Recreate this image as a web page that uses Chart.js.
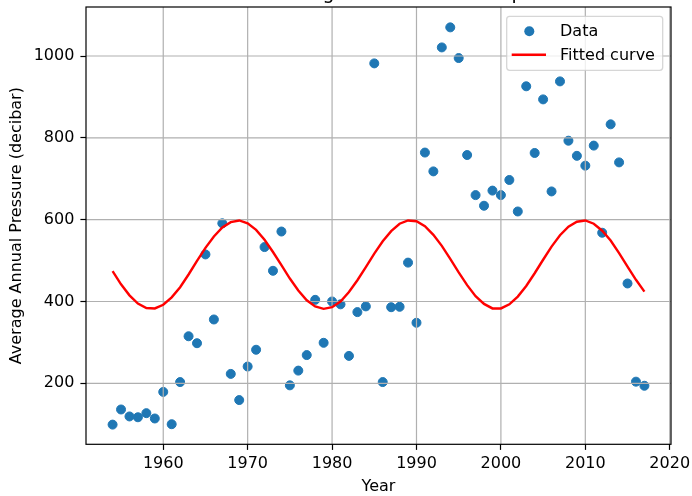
<!DOCTYPE html>
<html>
<head>
<meta charset="utf-8">
<script src="https://cdn.jsdelivr.net/npm/chart.js@4.4.1/dist/chart.umd.min.js"></script>
<style>
  html, body { margin: 0; padding: 0; background: #fff; overflow: hidden; }
  #chart { display: block; }
</style>
</head>
<body>
<canvas id="chart" width="692" height="496"></canvas>
<script>
// Yearly averages, 1954 - 2017
const years = [
  1954, 1955, 1956, 1957, 1958, 1959, 1960, 1961, 1962, 1963,
  1964, 1965, 1966, 1967, 1968, 1969, 1970, 1971, 1972, 1973,
  1974, 1975, 1976, 1977, 1978, 1979, 1980, 1981, 1982, 1983,
  1984, 1985, 1986, 1987, 1988, 1989, 1990, 1991, 1992, 1993,
  1994, 1995, 1996, 1997, 1998, 1999, 2000, 2001, 2002, 2003,
  2004, 2005, 2006, 2007, 2008, 2009, 2010, 2011, 2012, 2013,
  2014, 2015, 2016, 2017
];

// measured average annual pressure (decibar)
const pressure = [
   99, 136, 119, 117, 127, 114, 179, 100, 203, 315,
  298, 515, 356, 591, 223, 159, 241, 282, 533, 475,
  571, 195, 231, 269, 404, 299, 400, 393, 267, 374,
  388, 982, 203, 386, 387, 495, 348, 764, 718, 1021,
 1070, 995, 758, 660, 634, 671, 660, 697, 620, 926,
  763, 894, 669, 938, 793, 756, 732, 781, 568, 833,
  740, 444, 204, 194
];

// sinusoidal fit evaluated at each year
const fitted = [
  474, 442, 415, 395, 384, 383, 392, 410, 435, 466,
  499, 531, 559, 581, 594, 598, 591, 575, 551, 521,
  489, 456, 427, 403, 388, 382, 386, 400, 423, 452,
  484, 517, 547, 572, 590, 598, 596, 584, 563, 536,
  504, 471, 440, 413, 394, 383, 383, 393, 412, 438,
  469, 502, 534, 562, 583, 595, 598, 590, 573, 549,
  518, 485, 453, 424
];

const titleText = 'Sine Fit to Average Annual Pressure per Year';
const xLabel = 'Year';
const yLabel = 'Average Annual Pressure (decibar)';

const FONT = 'DejaVu Sans';
Chart.defaults.font.family = FONT;
Chart.defaults.color = '#000';

// no extra room for half tick labels at the ends of the axes
function trimPadding(s) {
  s.paddingTop = 0;
  s.paddingBottom = 0;
  s.paddingLeft = 0;
  s.paddingRight = 0;
}

// grid lines sit above the scatter markers but under the fitted line
const gridOverPoints = {
  id: 'gridOverPoints',
  afterDatasetDraw(chart, args) {
    if (args.index !== 0) return;
    const {ctx, chartArea: a, scales} = chart;
    ctx.save();
    ctx.strokeStyle = '#b0b0b0';
    ctx.lineWidth = 1.2;
    ctx.beginPath();
    scales.x.ticks.forEach(t => {
      const px = scales.x.getPixelForValue(t.value);
      ctx.moveTo(px, a.top); ctx.lineTo(px, a.bottom);
    });
    scales.y.ticks.forEach(t => {
      const py = scales.y.getPixelForValue(t.value);
      ctx.moveTo(a.left, py); ctx.lineTo(a.right, py);
    });
    ctx.stroke();
    ctx.restore();
  }
};

// axes frame, title and the boxed legend in the upper right corner
const frameAndLegend = {
  id: 'frameAndLegend',
  afterDatasetsDraw(chart) {
    const {ctx, chartArea: a} = chart;
    ctx.save();
    ctx.strokeStyle = '#000';
    ctx.lineWidth = 1.2;
    ctx.strokeRect(a.left, a.top, a.right - a.left, a.bottom - a.top);

    ctx.font = '19px "' + FONT + '"';
    ctx.fillStyle = '#000';
    ctx.textAlign = 'center';
    ctx.textBaseline = 'alphabetic';
    ctx.fillText(titleText, (a.left + a.right) / 2, a.top - 8.5);

    const w = 156, h = 54;
    const right = a.right - 8.3, top = a.top + 9.3, left = right - w;
    ctx.beginPath();
    ctx.roundRect(left, top, w, h, 3);
    ctx.fillStyle = 'rgba(255,255,255,0.8)';
    ctx.fill();
    ctx.strokeStyle = 'rgba(204,204,204,0.8)';
    ctx.lineWidth = 1.3;
    ctx.stroke();

    ctx.font = '16px "' + FONT + '"';
    ctx.textAlign = 'left';
    ctx.textBaseline = 'middle';
    chart.data.datasets.forEach((ds, i) => {
      const cy = top + 15 + i * 23.4;
      if (ds.type === 'line') {
        ctx.strokeStyle = ds.borderColor;
        ctx.lineWidth = ds.borderWidth;
        ctx.beginPath();
        ctx.moveTo(left + 5, cy);
        ctx.lineTo(left + 39.3, cy);
        ctx.stroke();
      } else {
        ctx.fillStyle = ds.backgroundColor;
        ctx.beginPath();
        ctx.arc(left + 22.6, cy, 5, 0, Math.PI * 2);
        ctx.fill();
      }
      ctx.fillStyle = '#000';
      ctx.fillText(ds.label, left + 53.3, cy + 1);
    });
    ctx.restore();
  }
};

const ctx = document.getElementById('chart').getContext('2d');
new Chart(ctx, {
  type: 'scatter',
  data: {
    datasets: [
      {
        label: 'Data',
        data: years.map((yr, i) => ({x: yr, y: pressure[i]})),
        backgroundColor: '#1f77b4',
        borderColor: '#1f77b4',
        borderWidth: 1,
        pointRadius: 4.5,
        order: 2
      },
      {
        type: 'line',
        label: 'Fitted curve',
        data: years.map((yr, i) => ({x: yr, y: fitted[i]})),
        borderColor: '#ff0000',
        borderWidth: 2.4,
        pointRadius: 0,
        tension: 0,
        fill: false,
        order: 1
      }
    ]
  },
  options: {
    responsive: false,
    devicePixelRatio: 1,
    animation: false,
    layout: { padding: { top: 7, right: 21, bottom: 0, left: 0 } },
    plugins: {
      legend: { display: false },
      title: { display: false },
      tooltip: { enabled: false }
    },
    scales: {
      x: {
        type: 'linear',
        min: 1950.85,
        max: 2020.15,
        afterFit: s => { s.height = 51.7; trimPadding(s); },
        border: { display: false },
        grid: { drawOnChartArea: false, tickLength: 5.6, tickColor: '#000', tickWidth: 1.2 },
        ticks: {
          stepSize: 10,
          includeBounds: false,
          padding: 4.5,
          font: { size: 16 },
          callback: v => String(v)
        },
        title: { display: true, text: xLabel, font: { size: 16 }, padding: { top: 0, bottom: 0 } }
      },
      y: {
        min: 50.9,
        max: 1119.8,
        afterFit: s => { s.width = 86; trimPadding(s); },
        border: { display: false },
        grid: { drawOnChartArea: false, tickLength: 5.6, tickColor: '#000', tickWidth: 1.2 },
        ticks: {
          stepSize: 200,
          includeBounds: false,
          padding: 6,
          font: { size: 16 },
          callback: v => String(v)
        },
        title: { display: true, text: yLabel, font: { size: 16 }, padding: { top: 7.4, bottom: 0 } }
      }
    }
  },
  plugins: [gridOverPoints, frameAndLegend]
});
</script>
</body>
</html>
